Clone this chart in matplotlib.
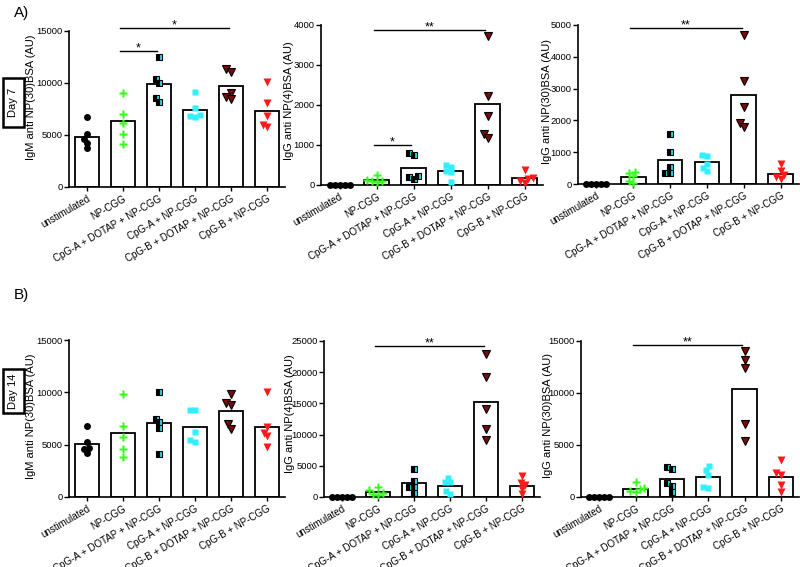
"""
Antibody titres (IgM / IgG anti-NP) at day 7 and day 14, bars = mean, points = mice
"""
import numpy as np
import matplotlib.pyplot as plt
from matplotlib.patches import Rectangle

plt.rcParams['font.family'] = ['Liberation Sans', 'DejaVu Sans']

groups = ['unstimulated', 'NP-CGG', 'CpG-A + DOTAP + NP-CGG',
          'CpG-A + NP-CGG', 'CpG-B + DOTAP + NP-CGG', 'CpG-B + NP-CGG']

# ---- Day 7 ----
igm30_d7 = [[6700, 5050, 4600, 4250, 3750],
            [9060, 7000, 6130, 5140, 4140],
            [12460, 10340, 9960, 8510, 8160],
            [9120, 7600, 6970, 6810, 6750],
            [11300, 11050, 9060, 8670, 8480],
            [10090, 8030, 6810, 6000, 5780]]
igm30_d7_mean = [4850, 6330, 9860, 7450, 9670, 7290]

igg4_d7 = [[0, 0, 0, 0, 0],
           [240, 130, 100, 80, 90],
           [800, 760, 225, 150, 200],
           [460, 500, 350, 330, 80],
           [3725, 2235, 1735, 1275, 1185],
           [370, 180, 150, 100, 50]]
igg4_d7_mean = [0, 125, 433, 342, 2025, 167]

igg30_d7 = [[0, 0, 0, 0, 0],
            [390, 350, 240, 100, 20],
            [1580, 995, 535, 335, 355],
            [910, 890, 640, 515, 420],
            [4675, 3245, 2415, 1905, 1780],
            [615, 395, 280, 210, 165]]
igg30_d7_mean = [0, 220, 753, 680, 2793, 314]

# ---- Day 14 ----
igm30_d14 = [[6750, 5250, 4650, 4600, 4200],
             [9860, 6830, 5740, 4560, 3860],
             [10050, 7470, 7120, 6610, 4120],
             [8300, 8300, 6220, 5460, 5270],
             [9800, 9000, 8780, 6960, 6540],
             [10050, 6700, 6160, 5810, 4790]]
igm30_d14_mean = [5070, 6160, 7050, 6730, 8200, 6670]

igg4_d14 = [[0, 0, 0, 0, 0],
            [1550, 1100, 700, 500, 350],
            [4550, 2620, 1550, 1550, 640],
            [3100, 2450, 2350, 900, 500],
            [22970, 19220, 14080, 10970, 9100],
            [3400, 2300, 1900, 1300, 500]]
igg4_d14_mean = [0, 803, 2195, 1820, 15200, 1820]

igg30_d14 = [[0, 0, 0, 0, 0],
             [1400, 850, 750, 600, 450],
             [2900, 2700, 1380, 1095, 485],
             [2990, 2575, 2125, 935, 870],
             [14065, 13195, 12425, 7015, 5345],
             [3575, 2315, 2125, 1125, 450]]
igg30_d14_mean = [0, 805, 1740, 1900, 10360, 1900]

# significance bars: (group i, group j, y, label)
sig_igm30_d7 = [(1, 2, 13100, '*'), (1, 4, 15300, '*')]
sig_igg4_d7 = [(1, 2, 1000, '*'), (1, 4, 3875, '**')]
sig_igg30_d7 = [(1, 4, 4920, '**')]
sig_igg4_d14 = [(1, 4, 24250, '**')]
sig_igg30_d14 = [(1, 4, 14580, '**')]

styles = [
    dict(marker='o', color='black', ms=5, mec='none'),
    dict(marker='P', color='#33ff1a', ms=5.5, mec='none'),
    dict(marker='s', mfc='#22e0ee', mfcalt='black', fillstyle='right',
         mec='black', mew=0.8, ms=4.5),
    dict(marker='s', color='#33eeff', ms=5, mec='none'),
    dict(marker='v', mfc='#7a0a0a', mec='black', mew=0.8, ms=5.5),
    dict(marker='v', color='#ff1a1a', ms=5.5, mec='none'),
]

W, H = 800, 567
fig = plt.figure(figsize=(8, 5.67), dpi=100)


def swarm(ax, x0, vals, dist=5.0):
    """simple beeswarm in pixel space"""
    tr = ax.transData
    inv = tr.inverted()
    placed = []
    xs = np.zeros(len(vals))
    for k in np.argsort(vals):
        px, py = tr.transform((x0, vals[k]))
        best = 0.0
        for step in np.arange(0, 40, 0.5):
            found = False
            for s in ([0.0] if step == 0 else [-step, step]):
                if all((px + s - qx) ** 2 + (py - qy) ** 2 >= dist ** 2 for qx, qy in placed):
                    best, found = s, True
                    break
            if found:
                break
        placed.append((px + best, py))
        xs[k] = inv.transform((px + best, py))[0]
    return xs


def panel(box, points, means, ymax, ystep, ylabel, label_px, sigs=()):
    l, r, t, b = box
    ax = fig.add_axes([l / W, 1 - b / H, (r - l) / W, (b - t) / H])
    x = np.arange(len(groups))
    ax.set_xlim(-0.5, len(groups) - 0.5)
    ax.set_ylim(0, ymax)
    ax.bar(x, means, width=0.67, color='white', edgecolor='black', lw=1.3, zorder=1)
    for i, vals in enumerate(points):
        xs = swarm(ax, i, vals)
        ax.plot(xs, vals, ls='none', zorder=3, clip_on=False, **styles[i])
    for i, j, y, lab in sigs:
        ax.plot([i - 0.08, j - 0.06], [y, y], color='black', lw=1, clip_on=False)
        ax.annotate(lab, ((i + j) / 2 - 0.07, y), xytext=(0, -2.5),
                    textcoords='offset points', ha='center', va='bottom',
                    fontsize=9, annotation_clip=False)
    ax.set_yticks(np.arange(0, ymax + 1, ystep))
    ax.set_xticks(x)
    ax.set_xticklabels(groups, rotation=30, ha='right', rotation_mode='anchor', fontsize=7)
    ax.tick_params(axis='y', labelsize=6.8, length=3.5, width=1, pad=1.2)
    ax.tick_params(axis='x', length=3, width=1, pad=2)
    for s in ('top', 'right'):
        ax.spines[s].set_visible(False)
    for s in ('left', 'bottom'):
        ax.spines[s].set_linewidth(1.2)
    ax.set_ylabel(ylabel, fontsize=8)
    lx, ly = label_px
    ax.yaxis.set_label_coords((lx - l) / (r - l), (b - ly) / (b - t))
    return ax


panel((69, 285, 31, 187), igm30_d7, igm30_d7_mean, 15000, 5000,
      'IgM anti NP(30)BSA (AU)', (36, 97), sig_igm30_d7)
panel((321, 543, 25, 185), igg4_d7, igg4_d7_mean, 4000, 1000,
      'IgG anti NP(4)BSA (AU)', (294, 101), sig_igg4_d7)
panel((578, 799, 25, 184), igg30_d7, igg30_d7_mean, 5000, 1000,
      'IgG anti NP(30)BSA (AU)', (552, 102), sig_igg30_d7)
panel((69, 285, 340, 497), igm30_d14, igm30_d14_mean, 15000, 5000,
      'IgM anti NP(30)BSA (AU)', (36, 416))
panel((324, 540, 341, 497), igg4_d14, igg4_d14_mean, 25000, 5000,
      'IgG anti NP(4)BSA (AU)', (295, 414), sig_igg4_d14)
panel((581, 799, 341, 497), igg30_d14, igg30_d14_mean, 15000, 5000,
      'IgG anti NP(30)BSA (AU)', (553, 415), sig_igg30_d14)

# panel letters and day boxes
fig.text(14 / W, 1 - 13 / H, 'A)', fontsize=11, ha='left', va='center')
fig.text(14 / W, 1 - 295 / H, 'B)', fontsize=11, ha='left', va='center')
for (x0, x1, y0, y1), txt in [((3, 24, 78, 127), 'Day 7'), ((3, 24, 369, 413), 'Day 14')]:
    fig.patches.append(Rectangle((x0 / W, 1 - y1 / H), (x1 - x0) / W, (y1 - y0) / H,
                                 transform=fig.transFigure, fill=False, ec='black', lw=1.8))
    fig.text((x0 + x1) / 2 / W, 1 - (y0 + y1) / 2 / H, txt, rotation=90,
             ha='center', va='center', fontsize=8)

fig.savefig('out.png', dpi=100)
